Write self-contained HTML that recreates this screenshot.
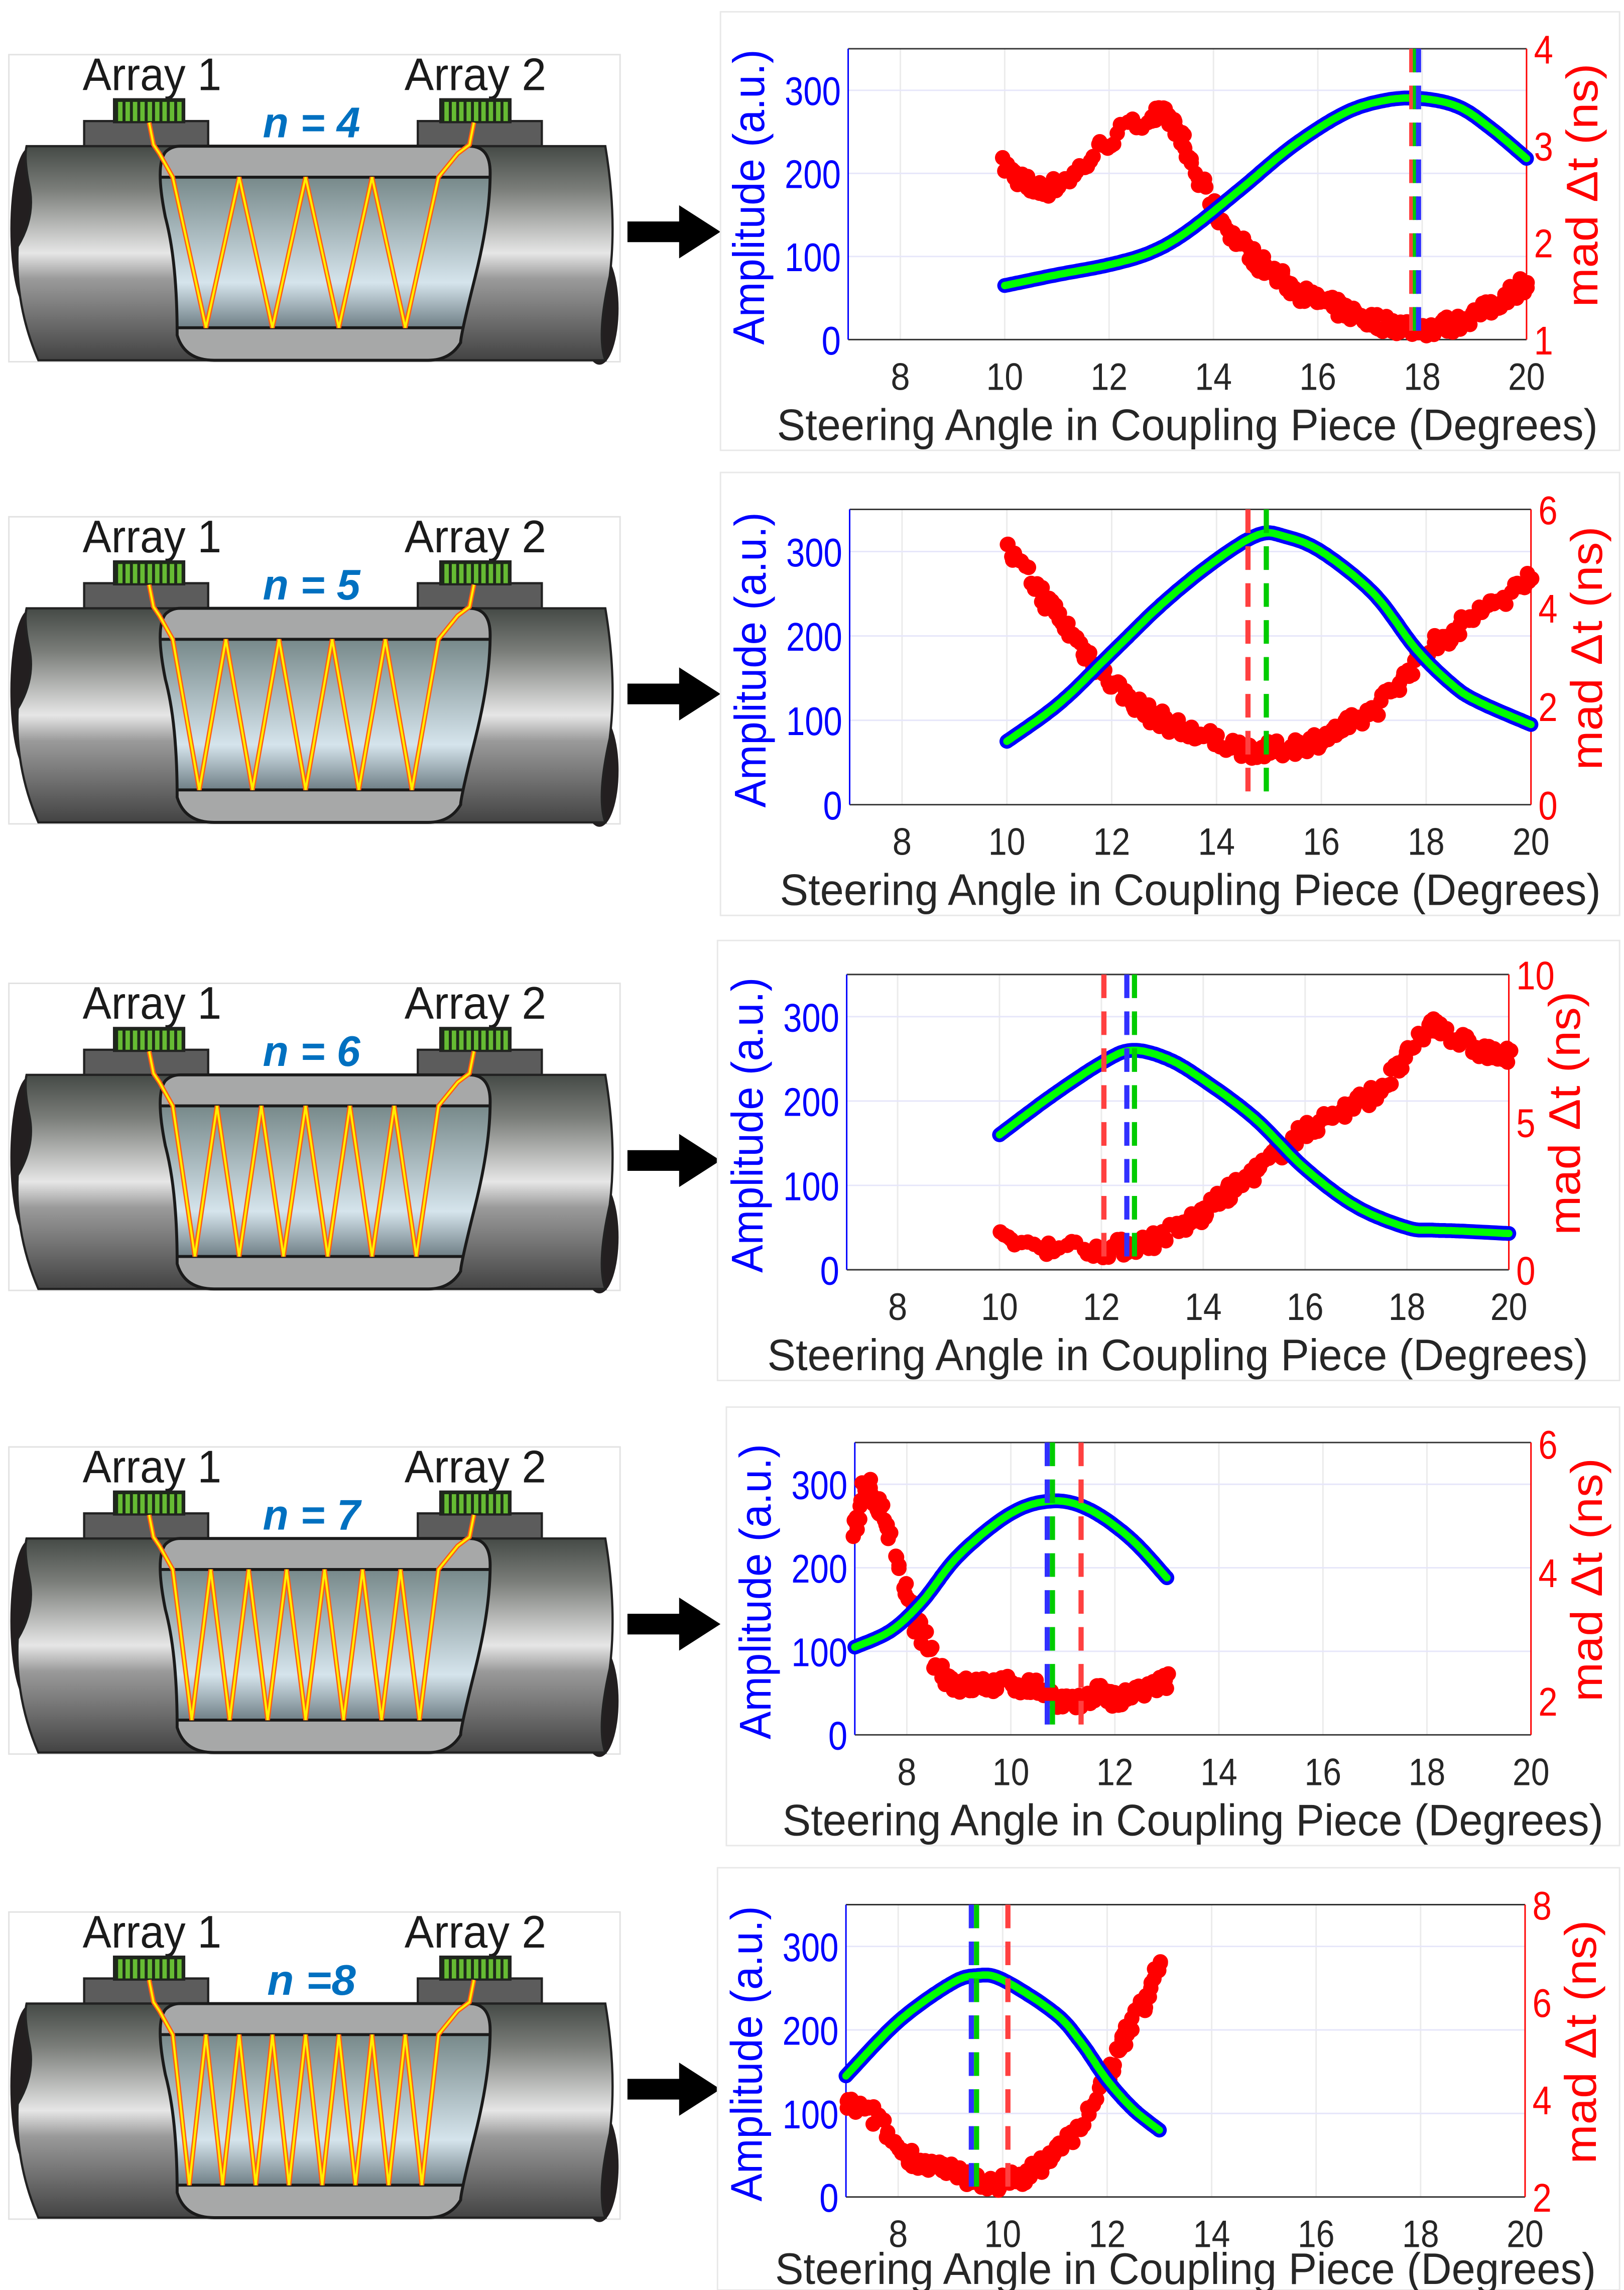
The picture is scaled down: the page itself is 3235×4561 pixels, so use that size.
<!DOCTYPE html>
<html><head><meta charset="utf-8"><style>
html,body{margin:0;padding:0;background:#fff;}
svg{display:block;}
</style></head><body>
<svg id="s" xmlns="http://www.w3.org/2000/svg" width="3235" height="4561" viewBox="0 0 1100 1551" preserveAspectRatio="none">
<defs>
<linearGradient id="pg" x1="0" y1="0" x2="0" y2="1">
<stop offset="0" stop-color="#454a46"/><stop offset="0.2" stop-color="#7a7d79"/><stop offset="0.5" stop-color="#e6e6e6"/><stop offset="0.62" stop-color="#9a9a9a"/><stop offset="1" stop-color="#434343"/>
</linearGradient>
<linearGradient id="fg" x1="0" y1="0" x2="0" y2="1">
<stop offset="0" stop-color="#77898a"/><stop offset="0.7" stop-color="#d5e4ec"/><stop offset="1" stop-color="#6f7f86"/>
</linearGradient>
<clipPath id="cc"><path d="M122,62 L318,62 Q332,62 332,80 Q332,110 322,150 Q312,190 312,195 Q305,207 290,207 L145,207 Q125,207 120,190 Q120,140 112,110 Q105,75 112,66 Q116,62 122,62 Z"/></clipPath>
</defs>
<g id="root"></g>
</svg>
<script>
var NS="http://www.w3.org/2000/svg",root=document.getElementById('root');
function el(t,a,p,txt){var e=document.createElementNS(NS,t);for(var k in a)e.setAttribute(k,a[k]);if(txt!==undefined)e.textContent=txt;(p||root).appendChild(e);return e;}
var FONT='"Liberation Sans",sans-serif';
function T(p,x,y,size,fill,anchor,len,txt,extra){var a={x:x,y:y,'font-family':FONT,'font-size':size,fill:fill,'text-anchor':anchor};if(len){a.textLength=len;a.lengthAdjust='spacingAndGlyphs';}for(var k in (extra||{}))a[k]=extra[k];return el('text',a,p,txt);}
function diagram(y0,n,lab){
 var g=el('g',{transform:'translate(0,'+y0+')'});
 el('rect',{x:6,y:0,width:414,height:208,fill:'#fff',stroke:'#e2e2e2','stroke-width':1},g);
 T(g,103,24,31,'#1a1a1a','middle',94,'Array 1');
 T(g,322,24,31,'#1a1a1a','middle',96,'Array 2');
 T(g,211,56,29,'#0070c0','middle',lab.length==5?66:60,lab,{'font-weight':'bold','font-style':'italic'});
 [[77,57],[298,283]].forEach(function(p){
  el('rect',{x:p[1],y:45,width:84,height:17,fill:'#5c5c5c',stroke:'#222','stroke-width':1.5},g);
  el('rect',{x:p[0],y:30,width:48,height:16,fill:'#1e2a1a',stroke:'#222','stroke-width':1},g);
  for(var i=0;i<9;i++)el('rect',{x:p[0]+3+i*5,y:32,width:3,height:13,fill:'#66bb33'},g);
 });
 el('ellipse',{cx:20,cy:118,rx:13,ry:55,fill:'#231f20'},g);
 el('ellipse',{cx:406,cy:172,rx:13,ry:38,fill:'#231f20'},g);
 el('path',{d:'M18,62 L410,62 Q418,110 413,150 Q404,190 410,207 L26,207 Q10,170 12,130 Q24,110 20,90 Q16,70 18,62 Z',fill:'url(#pg)',stroke:'#222','stroke-width':1.5},g);
 var cut='M122,62 L318,62 Q332,62 332,80 Q332,110 322,150 Q312,190 312,195 Q305,207 290,207 L145,207 Q125,207 120,190 Q120,140 112,110 Q105,75 112,66 Q116,62 122,62 Z';
 el('path',{d:cut,fill:'#a7a8a8'},g);
 var cg=el('g',{'clip-path':'url(#cc)'},g);
 el('rect',{x:100,y:83,width:240,height:102,fill:'url(#fg)'},cg);
 el('line',{x1:100,y1:83,x2:340,y2:83,stroke:'#1a1a1a','stroke-width':2},cg);
 el('line',{x1:100,y1:185,x2:340,y2:185,stroke:'#1a1a1a','stroke-width':2},cg);
 el('path',{d:cut,fill:'none',stroke:'#1a1a1a','stroke-width':2},g);
 var x0=117,x1=297,sp=(x1-x0)/n,pts=[[101,46],[104,61],[108,67],[x0,83]];
 for(var i=0;i<n;i++){pts.push([x0+sp*(i+0.5),185]);pts.push([x0+sp*(i+1),83]);}
 pts.push([310,67]);pts.push([318,61]);pts.push([321,46]);
 var d=pts.map(function(p){return p.join(',');}).join(' ');
 el('polyline',{points:d,fill:'none',stroke:'#ff5a14','stroke-width':3.2},g);
 el('polyline',{points:d,fill:'none',stroke:'#ffee00','stroke-width':1.5},g);
 el('rect',{x:425,y:113,width:38,height:14,fill:'#000'},g);
 el('polygon',{points:'460,102 488,120 460,138',fill:'#000'},g);
}
function cr(P,step){var out=[];for(var i=0;i<P.length-1;i++){var p0=P[Math.max(0,i-1)],p1=P[i],p2=P[i+1],p3=P[Math.min(P.length-1,i+2)];for(var t=0;t<1;t+=step){var t2=t*t,t3=t2*t;var f=function(a,b,c,d){return 0.5*((2*b)+(-a+c)*t+(2*a-5*b+4*c-d)*t2+(-a+3*b-3*c+d)*t3);};out.push([f(p0[0],p1[0],p2[0],p3[0]),f(p0[1],p1[1],p2[1],p3[1])]);}}out.push(P[P.length-1]);return out;}
var seed=7;function rnd(){seed=(seed*16807)%2147483647;return seed/2147483647-0.5;}
function plot(c){
 var g=el('g',{});
 el('rect',{x:c.fx0,y:c.fy0,width:c.fx1-c.fx0,height:c.fy1-c.fy0,fill:'#fff',stroke:'#e8e8e8','stroke-width':1},g);
 var X=function(v){return c.L+(v-7)/13*(c.R-c.L);},Y=function(v){return c.B-v/350*(c.B-c.T);},Yr=function(v){return c.B-(v-c.r0)/(c.r1-c.r0)*(c.B-c.T);};
 for(var v=8;v<=20;v+=2){el('line',{x1:X(v),y1:c.T,x2:X(v),y2:c.B,stroke:'#ebebeb','stroke-width':1},g);
  T(g,X(v),c.B+34,26,'#262626','middle',v<10?13:25,String(v));}
 [100,200,300].forEach(function(v){el('line',{x1:c.L,y1:Y(v),x2:c.R,y2:Y(v),stroke:'#e6e6fa','stroke-width':1},g);});
 [0,100,200,300].forEach(function(v){T(g,c.L-5,Y(v)+10,27,'#0000ff','end',v?38:13,String(v));});
 c.rt.forEach(function(v){var s=String(v);T(g,c.R+5,Yr(v)+10,27,'#ff0000','start',s.length*13,s);});
 el('line',{x1:c.L,y1:c.T,x2:c.R,y2:c.T,stroke:'#333','stroke-width':1},g);
 el('line',{x1:c.L,y1:c.B,x2:c.R,y2:c.B,stroke:'#333','stroke-width':1},g);
 el('line',{x1:c.L,y1:c.T,x2:c.L,y2:c.B,stroke:'#0000ff','stroke-width':1},g);
 el('line',{x1:c.R,y1:c.T,x2:c.R,y2:c.B,stroke:'#ff0000','stroke-width':1},g);
 var cx=c.L-57,cy=(c.T+c.B)/2+2;
 T(g,cx,cy,30,'#0000ff','middle',200,'Amplitude (a.u.)',{transform:'rotate(-90 '+cx+' '+cy+')'});
 var rx=c.R+48;
 T(g,rx,cy-8,30,'#ff0000','middle',165,'mad \u0394t (ns)',{transform:'rotate(-90 '+rx+' '+(cy-8)+')','font-family':'"Liberation Sans","DejaVu Sans",sans-serif'});
 T(g,(c.L+c.R)/2,c.B+(c.xl||68),30,'#262626','middle',556,'Steering Angle in Coupling Piece (Degrees)');
 var m=cr(c.mad,0.1);
 m.forEach(function(p){var px=X(p[0]+rnd()*0.08),py=Yr(p[1]+rnd()*(c.r1-c.r0)*0.06);el('circle',{cx:px,cy:py,r:5.2,fill:'#ff0000'},g);});
 var a=cr(c.amp,0.05).map(function(p){return X(p[0]).toFixed(1)+','+Y(p[1]).toFixed(1);}).join(' ');
 el('polyline',{points:a,fill:'none',stroke:'#0000ff','stroke-width':10,'stroke-linecap':'round','stroke-linejoin':'round'},g);
 el('polyline',{points:a,fill:'none',stroke:'#00ff00','stroke-width':5,'stroke-linecap':'round','stroke-linejoin':'round'},g);
 c.vl.forEach(function(v){el('line',{x1:X(v[0]),y1:c.T,x2:X(v[0]),y2:c.B,stroke:v[1],'stroke-width':3.5,'stroke-dasharray':'16 9'},g);});
}
var labs=['n = 4','n = 5','n = 6','n = 7','n =8'],ys=[37,350,666,980,1295];
for(var i=0;i<5;i++)diagram(ys[i],i+4,labs[i]);
plot({fx0:488,fy0:8,fx1:1097,fy1:305,L:574.5,R:1034,T:33,B:230,r0:1,r1:4,rt:[1,2,3,4],
 amp:[[10,65],[11,78],[12,90],[12.8,105],[13.5,130],[14.5,180],[15.5,232],[16.5,272],[17.3,288],[18,290],[18.7,280],[19.3,255],[20,218]],
 mad:[[10,2.8],[10.3,2.65],[10.7,2.55],[11.3,2.7],[12,3.05],[12.8,3.3],[13.2,3.25],[13.5,2.9],[14,2.35],[14.5,2.0],[15,1.75],[15.5,1.55],[16,1.4],[16.5,1.3],[17,1.2],[17.5,1.15],[18,1.12],[18.5,1.15],[19,1.25],[19.5,1.4],[20,1.6]],
 vl:[[17.8,'#ff4040'],[17.87,'#00cc00'],[17.93,'#3030ff']]});
plot({fx0:488,fy0:320,fx1:1097,fy1:620,L:575.5,R:1037,T:345,B:545,r0:0,r1:6,rt:[0,2,4,6],
 amp:[[10,75],[11,120],[12,180],[13,240],[14,290],[14.8,320],[15.3,318],[16,300],[17,250],[17.8,185],[18.5,142],[19,122],[20,95]],
 mad:[[10,5.2],[10.5,4.5],[11,3.8],[11.5,3.1],[12,2.5],[12.5,2.0],[13,1.7],[13.5,1.45],[14,1.3],[14.5,1.15],[15,1.1],[15.5,1.2],[16,1.35],[16.5,1.6],[17,1.95],[17.5,2.5],[18,3.1],[18.5,3.5],[19,3.9],[19.5,4.2],[20,4.7]],
 vl:[[14.6,'#ff4040'],[14.95,'#00cc00']]});
plot({fx0:486,fy0:637,fx1:1097,fy1:935,L:573.5,R:1022,T:660,B:860,r0:0,r1:10,rt:[0,5,10],
 amp:[[10,160],[11,205],[12,245],[12.6,260],[13.3,250],[14,225],[15,180],[16,120],[17,75],[18,50],[18.5,47],[19,46],[20,43]],
 mad:[[10,1],[11,0.8],[12,0.7],[12.5,0.8],[13,1.0],[13.5,1.4],[14,1.9],[14.5,2.6],[15,3.3],[15.5,4.0],[16,4.7],[16.5,5.2],[17,5.6],[17.5,6.2],[18,7.2],[18.5,8.3],[19,7.8],[19.5,7.4],[20,7.2]],
 vl:[[12.05,'#ff4040'],[12.5,'#3030ff'],[12.65,'#00cc00']]});
plot({fx0:492,fy0:953,fx1:1097,fy1:1250,L:579,R:1037,T:977,B:1175,r0:1.47,r1:6.02,rt:[2,4,6],
 amp:[[7,105],[7.7,125],[8.3,160],[9,215],[10,265],[10.8,280],[11.5,270],[12.3,235],[13,188]],
 mad:[[7,4.6],[7.2,5.3],[7.4,5.1],[7.6,4.8],[8,3.6],[8.3,3.0],[8.7,2.45],[9,2.25],[9.5,2.25],[10,2.25],[10.5,2.2],[11,2.0],[11.3,1.95],[11.7,2.15],[12,2.0],[12.5,2.15],[13,2.3]],
 vl:[[10.7,'#3030ff'],[10.8,'#00cc00'],[11.35,'#ff4040']]});
plot({fx0:486,fy0:1265,fx1:1097,fy1:1551,L:573,R:1033,T:1290,B:1488,r0:2,r1:8,rt:[2,4,6,8],xl:59,
 amp:[[7,145],[8,210],[9,255],[9.5,265],[10,260],[11,220],[11.5,185],[12,140],[12.5,105],[13,80]],
 mad:[[7,3.9],[7.5,3.7],[8,3.0],[8.5,2.7],[9,2.5],[9.5,2.35],[10,2.3],[10.5,2.5],[11,2.9],[11.5,3.5],[12,4.5],[12.3,5.2],[12.7,6.0],[13,6.7]],
 vl:[[9.4,'#3030ff'],[9.5,'#00cc00'],[10.1,'#ff4040']]});
</script>
</body></html>
